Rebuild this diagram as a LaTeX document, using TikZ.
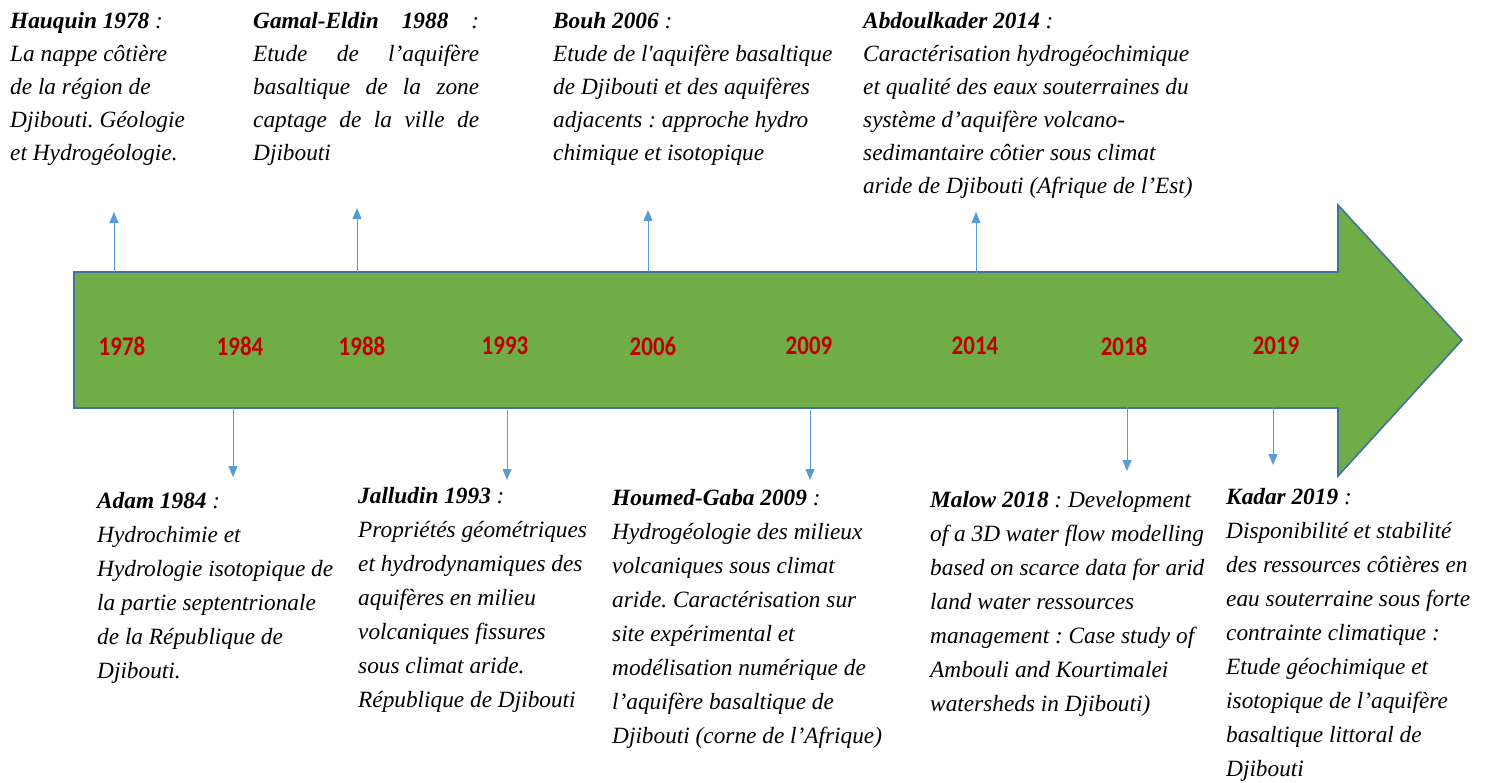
\documentclass[tikz,border=0pt]{standalone}
\usepackage{fontspec}
\setmainfont{Liberation Serif}
\newfontfamily\yearfont[FakeStretch=0.85]{Carlito}
\usepackage{tikz}
\usetikzlibrary{arrows.meta}
\definecolor{bandgreen}{HTML}{70AD47}
\definecolor{bandedge}{HTML}{41719C}
\definecolor{linkblue}{HTML}{5B9BD5}
\definecolor{yearred}{HTML}{C00000}
\tikzset{
  year/.style={font=\yearfont\bfseries\fontsize{27}{30}\selectfont, text=yearred, inner sep=0pt},
  ref/.style={anchor=north west, inner sep=0pt, align=left, font=\frenchspacing\itshape\fontsize{23.3}{33}\selectfont},
  lowref/.style={ref, font=\frenchspacing\itshape\fontsize{23.3}{34}\selectfont}
}
\tikzset{link/.style={draw=linkblue, line width=1pt, -{Triangle[width=9pt,length=11pt]}}}
\begin{document}
\begin{tikzpicture}[x=1pt,y=-1pt]
\useasboundingbox (0,0) rectangle (1488,782);
\draw[fill=bandgreen, draw=bandedge, line width=1.6pt]
  (74,272) -- (1338,272) -- (1338,205) -- (1462,340) -- (1338,476) -- (1338,408) -- (74,408) -- cycle;

\foreach \y/\x in {1978/122,1984/240,1988/362,1993/505,2006/653,2009/809,2014/975,2018/1124,2019/1276}
  \node[year] (y\y) at (\x,346) {\y};

\foreach \n/\x/\a/\b in {1978/114/272/212, 1988/357/272/208, 2006/648/272/210, 2014/976/274/212,
  1984/233/408/477, 1993/507/410/480, 2009/810/410/480, 2018/1127/402/471, 2019/1273/394/465}{
  \coordinate (from\n) at (\x,\a);
  \coordinate (to\n) at (\x,\b);
  \draw[link] (from\n) -- (to\n);
}

\node[ref] (hauquin) at (10,12) {\textbf{Hauquin 1978} :\\ La nappe côtière\\ de la région de\\ Djibouti. Géologie\\ et Hydrogéologie.};
\node[ref, text width=226pt, align=justify] (gamal) at (253,12) {\textbf{Gamal-Eldin 1988} :\linebreak Etude de l’aquifère\linebreak basaltique de la zone\linebreak captage de la ville de\linebreak Djibouti};
\node[ref] (bouh) at (553,12) {\textbf{Bouh 2006} :\\ Etude de l\textquotesingle aquifère basaltique\\ de Djibouti et des aquifères\\ adjacents : approche hydro\\ chimique et isotopique};
\node[ref] (abdoulkader) at (863,12) {\textbf{Abdoulkader 2014} :\\ Caractérisation hydrogéochimique\\ et qualité des eaux souterraines du\\ système d’aquifère volcano-\\ sedimantaire côtier sous climat\\ aride de Djibouti (Afrique de l’Est)};

\node[lowref] (adam) at (97,492) {\textbf{Adam 1984} :\\ Hydrochimie et\\ Hydrologie isotopique de\\ la partie septentrionale\\ de la République de\\ Djibouti.};
\node[lowref] (jalludin) at (358,487) {\textbf{Jalludin 1993} :\\ Propriétés géométriques\\ et hydrodynamiques des\\ aquifères en milieu\\ volcaniques fissures\\ sous climat aride.\\ République de Djibouti};
\node[lowref] (houmed) at (612,489) {\textbf{Houmed-Gaba 2009} :\\ Hydrogéologie des milieux\\ volcaniques sous climat\\ aride. Caractérisation sur\\ site expérimental et\\ modélisation numérique de\\ l’aquifère basaltique de\\ Djibouti (corne de l’Afrique)};
\node[lowref] (malow) at (930,491) {\textbf{Malow 2018} : Development\\ of a 3D water flow modelling\\ based on scarce data for arid\\ land water ressources\\ management : Case study of\\ Ambouli and Kourtimalei\\ watersheds in Djibouti)};
\node[lowref] (kadar) at (1226,488) {\textbf{Kadar 2019} :\\ Disponibilité et stabilité\\ des ressources côtières en\\ eau souterraine sous forte\\ contrainte climatique :\\ Etude géochimique et\\ isotopique de l’aquifère\\ basaltique littoral de\\ Djibouti};
\end{tikzpicture}
\end{document}
